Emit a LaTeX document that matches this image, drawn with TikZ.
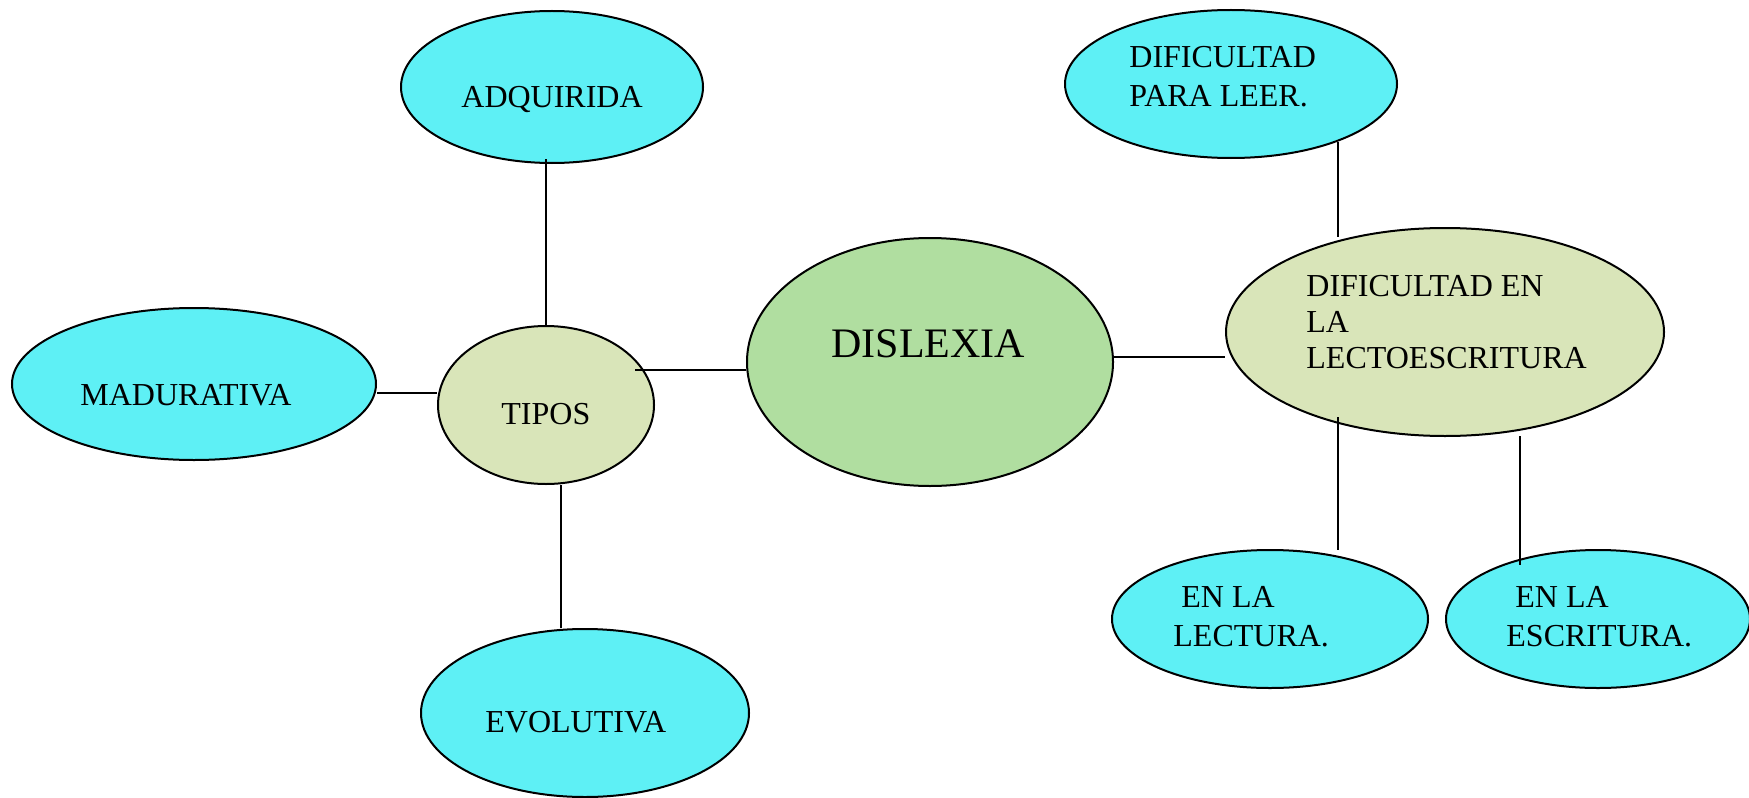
\documentclass[tikz,border=0pt]{standalone}
\usepackage{fontspec}
\setmainfont{Liberation Serif}
\usetikzlibrary{shapes.geometric,calc}
\definecolor{cyanfill}{RGB}{94,240,245}
\definecolor{palegreen}{RGB}{217,229,185}
\definecolor{midgreen}{RGB}{176,222,160}
\tikzset{
  ell/.style={ellipse, draw=black, line width=1pt, inner sep=0pt},
  leaf/.style={ell, fill=cyanfill},
  hub/.style={ell, fill=palegreen},
  core/.style={ell, fill=midgreen},
  lbl/.style={anchor=base west, inner sep=0pt, font=\fontsize{16}{19.5}\selectfont},
  conn/.style={draw=black, line width=0.8pt}
}
\begin{document}
\begin{tikzpicture}[x=0.5pt,y=-0.5pt]
\useasboundingbox (0,0) rectangle (1749,797);
% ellipses (minimum width/height in pt = radius in px)
\node[leaf, minimum width=151pt, minimum height=76pt] (adq) at (552,87) {};
\node[leaf, minimum width=182pt, minimum height=76pt] (mad) at (194,384) {};
\node[hub,  minimum width=108pt, minimum height=79pt] (tipos) at (546,405) {};
\node[leaf, minimum width=164pt, minimum height=84pt] (evol) at (585,713) {};
\node[core, minimum width=183pt, minimum height=124pt] (dis) at (930,362) {};
\node[leaf, minimum width=166pt, minimum height=74pt] (leer) at (1231,84) {};
\node[hub,  minimum width=219pt, minimum height=104pt] (lecto) at (1445,332) {};
\node[leaf, minimum width=158pt, minimum height=69pt] (lect) at (1270,619) {};
\node[leaf, minimum width=152pt, minimum height=69pt] (escr) at (1598,619) {};
% texts
\node[lbl] (tadq) at (461,108) {ADQUIRIDA};
\node[lbl] (tmad) at (80,405) {MADURATIVA};
\node[lbl] (ttip) at (501,424) {TIPOS};
\node[lbl] (tevo) at (485,732) {EVOLUTIVA};
\node[lbl, font=\fontsize{21}{25}\selectfont] (tdis) at (831,357) {DISLEXIA};
\node[lbl] (tleer) at (1129,68) {\begin{tabular}[t]{@{}l@{}}DIFICULTAD\\PARA LEER.\end{tabular}};
\node[lbl, font=\fontsize{16}{18}\selectfont] (tlecto) at (1306,296) {\begin{tabular}[t]{@{}l@{}}DIFICULTAD EN\\LA\\LECTOESCRITURA\end{tabular}};
\node[lbl] (tlect) at (1173,607) {\begin{tabular}[t]{@{}l@{}}\hspace*{4pt}EN LA\\LECTURA.\end{tabular}};
\node[lbl] (tescr) at (1506,607) {\begin{tabular}[t]{@{}l@{}}\hspace*{4.5pt}EN LA\\ESCRITURA.\end{tabular}};
% connectors
\coordinate (a1) at ($(adq.center)+(-6,72)$);
\draw[conn] (a1) -- (a1 |- tipos.north);
\coordinate (m1) at ($(mad.east)+(0,9)$);
\draw[conn] (m1) -- (m1 -| tipos.west);
\coordinate (t1) at ($(tipos.east)+(-20,-35)$);
\draw[conn] (t1) -- (t1 -| dis.west);
\coordinate (t2) at ($(tipos.south)+(15,0)$);
\draw[conn] (t2) -- (t2 |- evol.north);
\coordinate (d1) at ($(dis.east)+(0,-5)$);
\draw[conn] (d1) -- (d1 -| lecto.west);
\draw[conn] ($(leer.center)+(107,58)$) -- ($(lecto.center)+(-107,-95)$);
\draw[conn] ($(lecto.center)+(-107,85)$) -- ($(lect.center)+(68,-69)$);
\draw[conn] ($(lecto.center)+(75,104)$) -- ($(escr.center)+(-78,-54)$);
\end{tikzpicture}
\end{document}
